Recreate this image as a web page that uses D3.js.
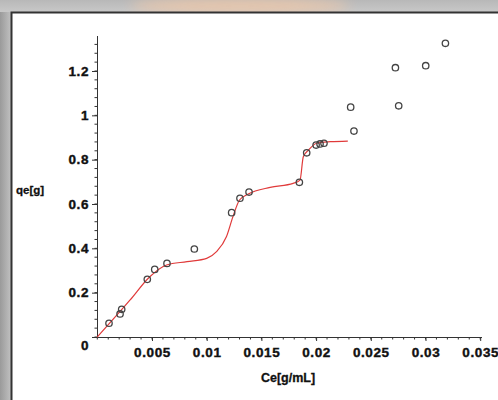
<!DOCTYPE html>
<html><head><meta charset="utf-8">
<script src="https://cdn.jsdelivr.net/npm/d3@7/dist/d3.min.js"></script>
<style>
html,body{margin:0;padding:0;background:#aaa;}
svg{display:block;}
text{font-family:"Liberation Sans",Arial,sans-serif;font-weight:bold;fill:#111;}
</style></head>
<body>
<svg id="c" width="498" height="400"></svg>
<script>
// Observed data points (Ce, qe)
const ceData = [0.00107,0.00208,0.00223,0.00457,0.00525,0.00637,0.00887,0.01228,0.01304,0.01387,0.01847,0.01914,0.0200,0.02036,0.02072,0.02316,0.02346,0.02725,0.02755,0.03002,0.03182];
const qeData = [0.062,0.104,0.125,0.26,0.305,0.332,0.397,0.561,0.626,0.654,0.698,0.831,0.866,0.871,0.874,1.037,0.929,1.215,1.043,1.224,1.325];
// Fitted model curve (red)
const fitCe = [0,0.003,0.0048,0.00634,0.0082,0.01,0.0109,0.0118,0.0124,0.013,0.0138,0.0158,0.0179,0.01853,0.01883,0.0193,0.02005,0.0213,0.0229];
const fitQe = [0,0.167,0.272,0.325,0.34,0.355,0.385,0.452,0.543,0.618,0.645,0.675,0.693,0.708,0.813,0.843,0.874,0.881,0.884];
const xTicks = [0.005,0.01,0.015,0.02,0.025,0.03,0.035];
const xTickLabels = ["0.005","0.01","0.015","0.02","0.025","0.03","0.035"];
const yTicks = [0,0.2,0.4,0.6,0.8,1,1.2];
const yTickLabels = ["0","0.2","0.4","0.6","0.8","1","1.2"];

const svg = d3.select("#c");
// frame background
const defs = svg.append("defs");
const gl = defs.append("linearGradient").attr("id","gl").attr("x1",0).attr("x2",1);
gl.append("stop").attr("offset",0).attr("stop-color","#9a9a9a");
gl.append("stop").attr("offset",1).attr("stop-color","#c4c4c4");
const gt = defs.append("linearGradient").attr("id","gt").attr("x1",0).attr("x2",0).attr("y1",0).attr("y2",1);
gt.append("stop").attr("offset",0).attr("stop-color","#b8b8b8");
gt.append("stop").attr("offset",1).attr("stop-color","#c8c8c8");
const bl = defs.append("filter").attr("id","bl").attr("x","-50%").attr("y","-50%").attr("width","200%").attr("height","200%");
bl.append("feGaussianBlur").attr("stdDeviation",6);
svg.append("rect").attr("x",0).attr("y",0).attr("width",498).attr("height",400).attr("fill","#b4b4b4");
svg.append("rect").attr("x",0).attr("y",0).attr("width",12).attr("height",400).attr("fill","url(#gl)");
svg.append("rect").attr("x",0).attr("y",0).attr("width",498).attr("height",12).attr("fill","url(#gt)");
svg.append("ellipse").attr("cx",240).attr("cy",6).attr("rx",110).attr("ry",8).attr("fill","#f0c8a8").attr("opacity",0.8).attr("filter","url(#bl)");
svg.append("rect").attr("x",12).attr("y",13).attr("width",486).attr("height",387).attr("fill","#fff");
svg.append("path").attr("d","M11.5,400V12.5H498").attr("fill","none").attr("stroke","#333").attr("stroke-width",2);

const x = d3.scaleLinear().domain([0,0.035]).range([97.3,480.2]);
const y = d3.scaleLinear().domain([0,1.2]).range([337,71]);

// minor ticks
const g = svg.append("g");
const xMinor = d3.range(0,36).map(i=>i*0.001);
g.selectAll(".xm").data(xMinor).enter().append("line")
 .attr("x1",d=>x(d)).attr("x2",d=>x(d)).attr("y1",337).attr("y2",339.5)
 .attr("stroke","#333").attr("stroke-width",1);
const yMinor = d3.range(0,35).map(i=>i*0.04);
g.selectAll(".ym").data(yMinor.filter(v=>y(v)>=36)).enter().append("line")
 .attr("y1",d=>y(d)).attr("y2",d=>y(d)).attr("x1",94.5).attr("x2",97)
 .attr("stroke","#333").attr("stroke-width",1);

// axes
const xAxis = d3.axisBottom(x).tickValues(xTicks).tickFormat((d,i)=>xTickLabels[i]).tickSize(4).tickPadding(6);
const yAxis = d3.axisLeft(y).tickValues(yTicks).tickFormat((d,i)=>yTickLabels[i]).tickSize(5).tickPadding(3);
const gx = svg.append("g").attr("transform","translate(0,337)").call(xAxis);
gx.select(".domain").attr("d","M97.3,0.5H482");
const gy = svg.append("g").attr("transform","translate(97,0)").call(yAxis);
gy.select(".domain").attr("d","M0.5,36V337");
svg.selectAll(".tick line").attr("stroke","#333");
svg.selectAll(".domain").attr("stroke","#333");
svg.selectAll(".tick text").style("font-family","'Liberation Sans',Arial,sans-serif").style("font-weight","bold").style("font-size","13.5px").style("letter-spacing","0.6px").attr("fill","#111").attr("stroke","#111").attr("stroke-width",0.4);
gy.selectAll(".tick text").filter(d=>d===0).attr("dy","0.9em");

// axis titles
svg.append("text").attr("x",288).attr("y",382).attr("text-anchor","middle").style("font-size","12.5px").attr("stroke","#111").attr("stroke-width",0.3).text("Ce[g/mL]");
svg.append("text").attr("x",16).attr("y",194).style("font-size","11.5px").attr("stroke","#111").attr("stroke-width",0.3).text("qe[g]");

// fitted curve
const line = d3.line().x((d,i)=>x(fitCe[i])).y((d,i)=>y(fitQe[i])).curve(d3.curveMonotoneX);
svg.append("path").datum(fitCe).attr("d",line).attr("fill","none").attr("stroke","#e03a3a").attr("stroke-width",1.2);

// points
svg.selectAll(".pt").data(ceData).enter().append("circle")
 .attr("cx",d=>x(d)).attr("cy",(d,i)=>y(qeData[i])).attr("r",3.2)
 .attr("fill","none").attr("stroke","#444").attr("stroke-width",1.3);
</script>
</body></html>
